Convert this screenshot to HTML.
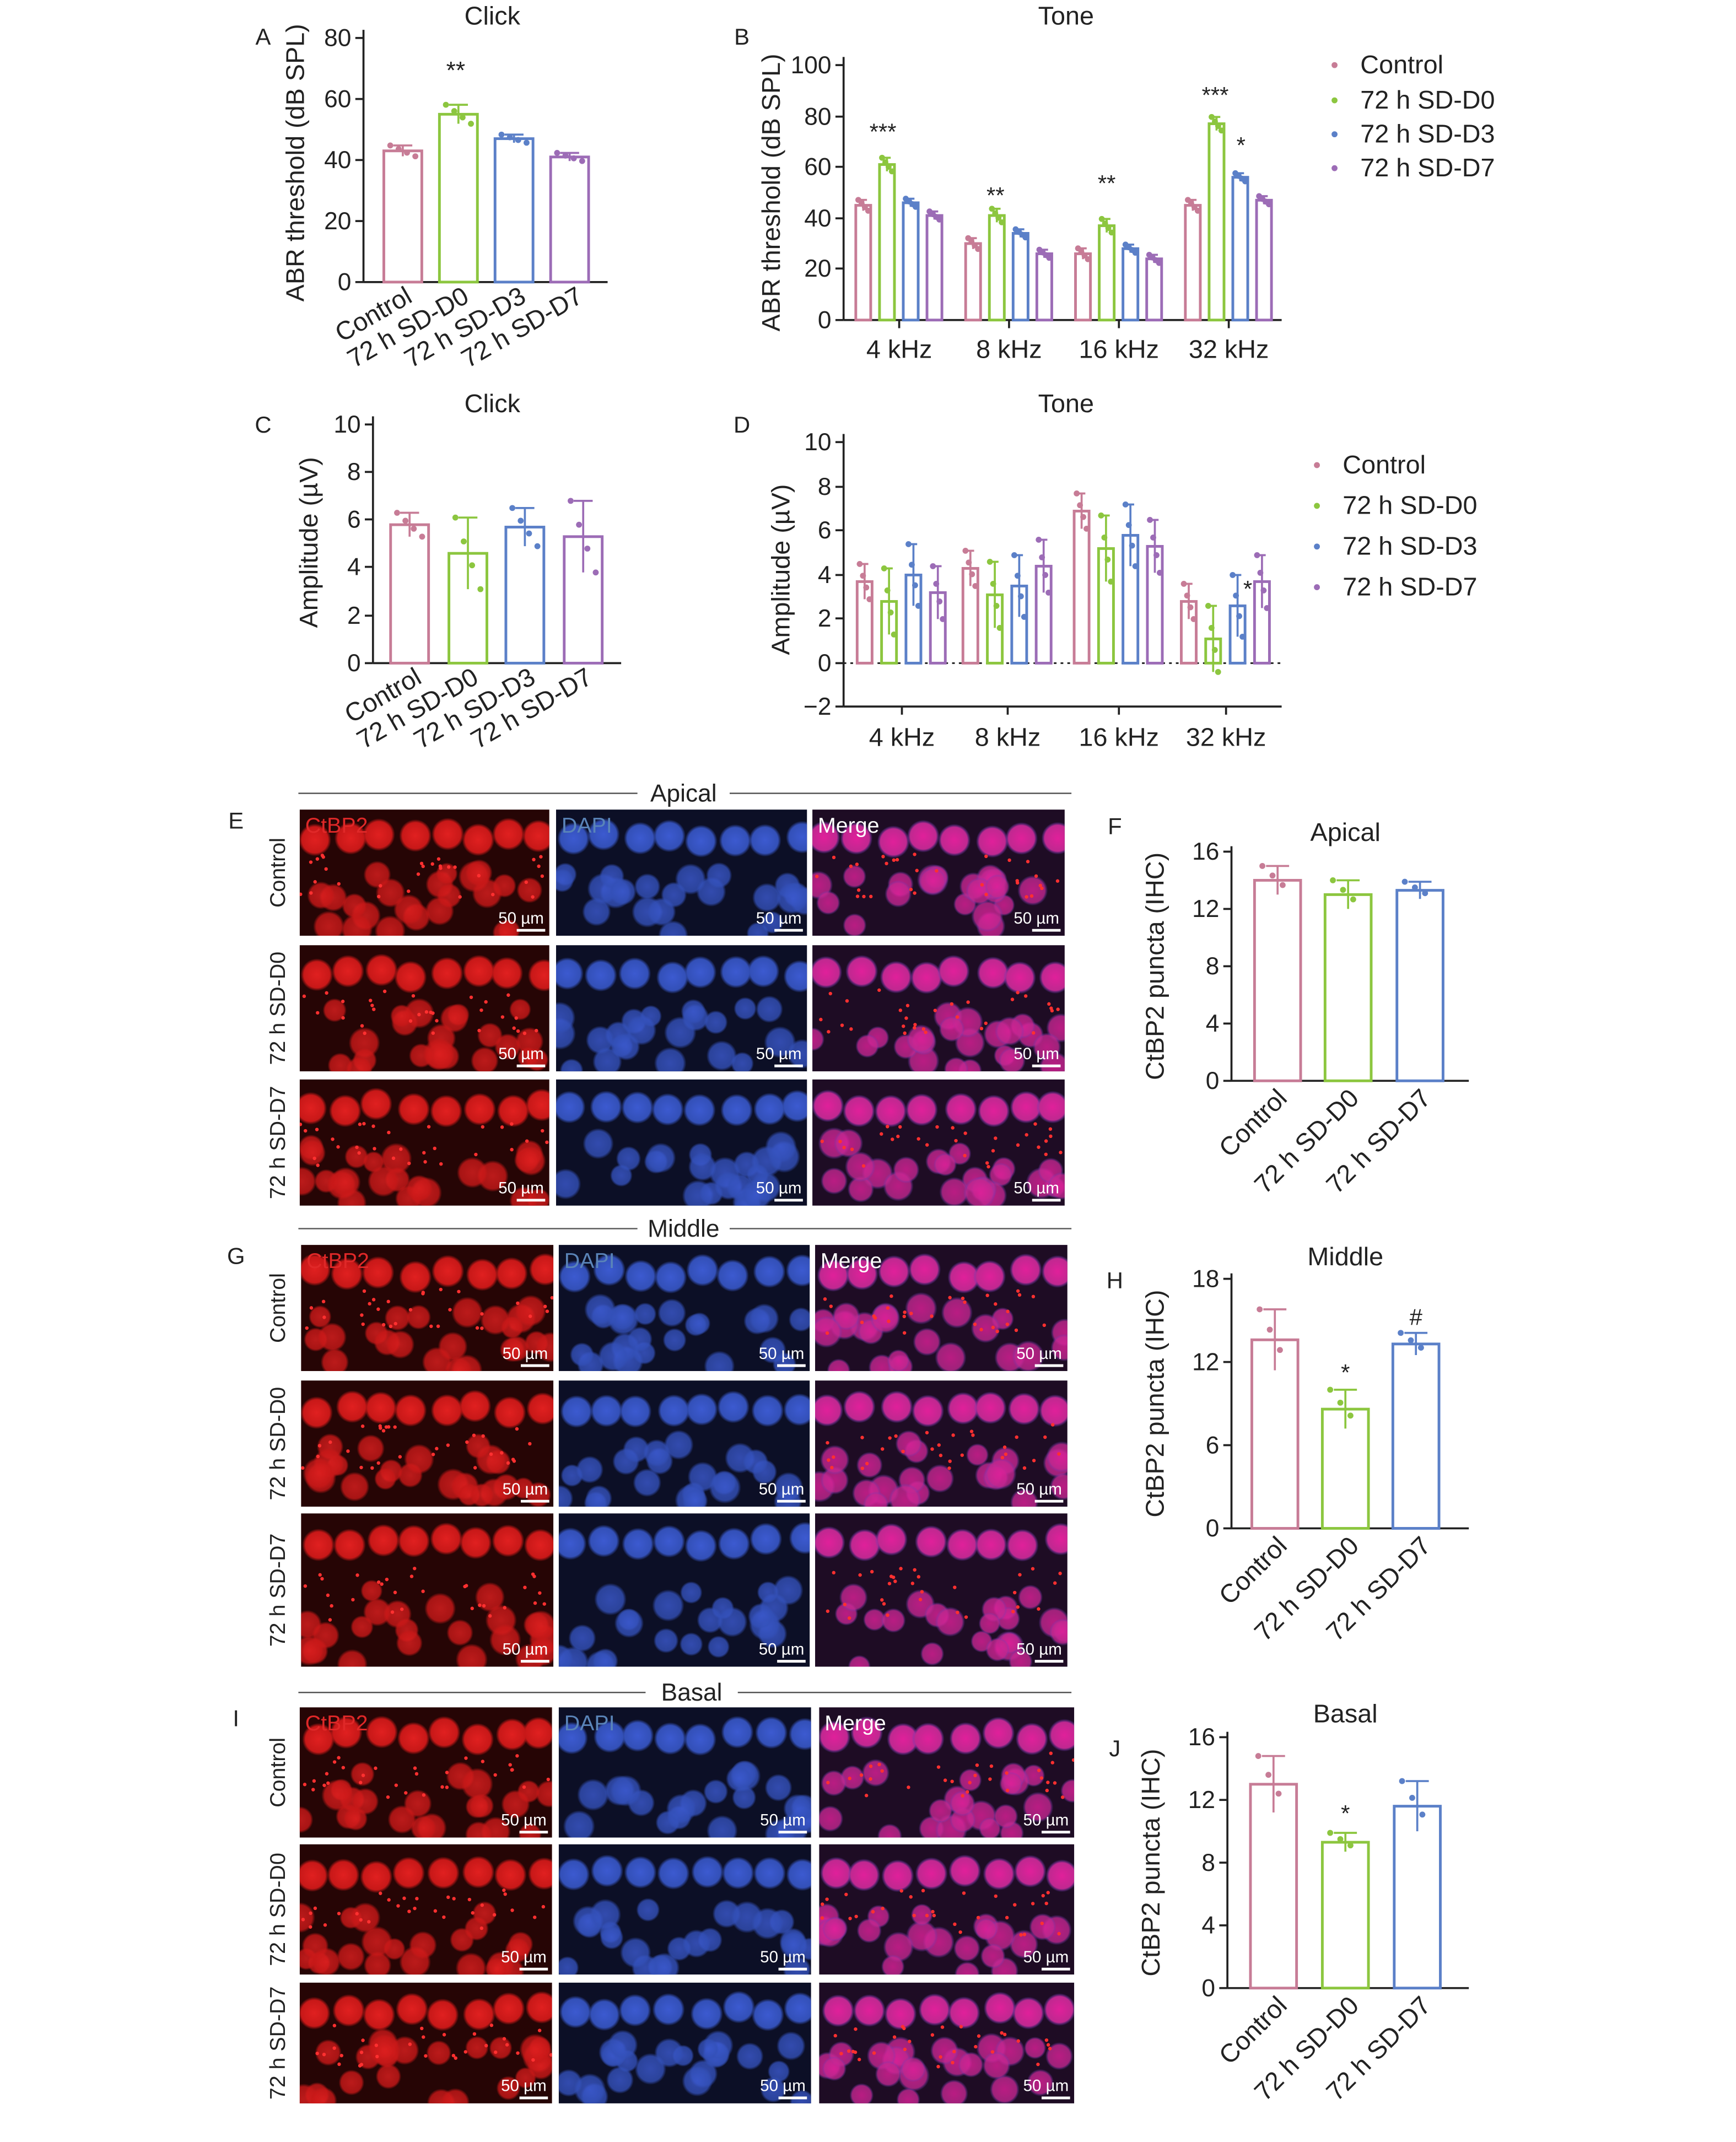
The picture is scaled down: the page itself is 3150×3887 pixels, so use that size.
<!DOCTYPE html>
<html><head><meta charset="utf-8"><style>
html,body{margin:0;padding:0;background:#fff}
svg{display:block}
text{font-family:"Liberation Sans",sans-serif;fill:#222}
</style></head><body>
<svg id="s" width="3150" height="3887" viewBox="0 0 1280 1579.5" xmlns="http://www.w3.org/2000/svg">
<defs>
<radialGradient id="gr"><stop offset="0" stop-color="#e02020"/><stop offset="0.8" stop-color="#c81818"/><stop offset="1" stop-color="#c81818" stop-opacity="0"/></radialGradient>
<radialGradient id="gb"><stop offset="0" stop-color="#3c5ad0"/><stop offset="0.8" stop-color="#3350b8"/><stop offset="1" stop-color="#3350b8" stop-opacity="0"/></radialGradient>
<radialGradient id="gm"><stop offset="0" stop-color="#e0209a"/><stop offset="0.8" stop-color="#c02890"/><stop offset="1" stop-color="#6040c0" stop-opacity="0"/></radialGradient>
</defs>
<g id="g"></g>
</svg>
<script>
const g=document.getElementById('g');let h='';
const C=['#c77c96','#8cc63f','#5b80c8','#9c6cb6'];
function T(x,y,t,o){o=o||{};h+=`<text x="${x}" y="${y}" font-size="${o.s||17}" text-anchor="${o.a||'middle'}" ${o.r!=null?`transform="rotate(${o.r} ${x} ${y})"`:''} style="fill:${o.c||'#222'}">${t}</text>`}
function L(x1,y1,x2,y2,c,w,d){h+=`<line x1="${x1}" y1="${y1}" x2="${x2}" y2="${y2}" stroke="${c||'#222'}" stroke-width="${w||1.5}" ${d?'stroke-dasharray="2,3"':''}/>`}
function axis(x,y0,y1,ticks,vals,x2,fs){L(x,y0,x,y1);L(x,y1,x2,y1);
 ticks.forEach((ty,i)=>{L(x-6,ty,x,ty);T(x-9,ty+6,vals[i],{a:'end',s:fs||18})})}
function bar(x,w,top,base,c,err,n){h+=`<rect x="${x}" y="${top}" width="${w}" height="${base-top}" fill="none" stroke="${c}" stroke-width="2"/>`;
 const cx=x+w/2;L(cx,top-err,cx,top+err,c,1.5);L(cx-w*0.25,top-err,cx+w*0.25,top-err,c,1.5);
 for(let i=0;i<(n||4);i++){const dx=(i-1.5)*w*0.22,dy=((i*37)%7-3)*err/3;h+=`<circle cx="${cx+dx}" cy="${top+dy}" r="2.2" fill="${c}"/>`}}
T(363,18,'Click',{s:19});T(194,33,'A',{s:17});
let yA=v=>208-v*2.25;axis(268,22,208,[28,73,118,163,208],['80','60','40','20','0'],448);
T(224,120,'ABR threshold (dB SPL)',{r:-90,s:19});
[[283,43,4],[324,55,7],[365,47,3],[406,41,3]].forEach((b,i)=>bar(b[0],28,yA(b[1]),208,C[i],b[2]));
T(336,58,'**',{s:18});
['Control','72 h SD-D0','72 h SD-D3','72 h SD-D7'].forEach((t,i)=>T(305+i*42,222,t,{a:'end',r:-30,s:19}));
T(786,18,'Tone',{s:19});T(547,33,'B',{s:17});
let yB=v=>236-v*1.88;axis(622,42,236,[48,86,123,161,198,236],['100','80','60','40','20','0'],945);
T(575,142,'ABR threshold (dB SPL)',{r:-90,s:19});
const BV=[[45,61,46,41],[30,41,34,26],[26,37,28,24],[45,77,56,47]],gc=[663,744,825,906];
BV.forEach((vs,gi)=>{L(gc[gi],236,gc[gi],242);vs.forEach((v,i)=>bar(gc[gi]-32+i*17.5,11,yB(v),236,C[i],[4,5,3,3][i]))});
['4 kHz','8 kHz','16 kHz','32 kHz'].forEach((t,i)=>T(gc[i],264,t,{s:19}));
T(651,103,'***');T(734,150,'**');T(816,141,'**');T(896,76,'***');T(915,113,'*');
function legend(x,ys){['Control','72 h SD-D0','72 h SD-D3','72 h SD-D7'].forEach((t,i)=>{h+=`<circle cx="${x}" cy="${ys[i]-6}" r="2.2" fill="${C[i]}"/>`;T(x+19,ys[i],t,{a:'start',s:19})})}
legend(984,[54,80,105,130]);
T(363,304,'Click',{s:19});T(194,319,'C',{s:17});
let yC=v=>489-v*17.6;axis(275,307,489,[313,348,383,418,454,489],['10','8','6','4','2','0'],458);
T(234,400,'Amplitude (µV)',{r:-90,s:19});
[[288,5.8,0.5],[331,4.6,1.5],[373,5.7,0.8],[416,5.3,1.5]].forEach((b,i)=>bar(b[0],28,yC(b[1]),489,C[i],b[2]*17.6));
['Control','72 h SD-D0','72 h SD-D3','72 h SD-D7'].forEach((t,i)=>T(312+i*42,503,t,{a:'end',r:-30,s:19}));
T(786,304,'Tone',{s:19});T(547,319,'D',{s:17});
let yD=v=>489-v*16.25;axis(622,320,521,[326,359,391,424,456,489,521],['10','8','6','4','2','0','−2'],945);
L(622,489,945,489,'#222',1.2,true);
T(582,420,'Amplitude (µV)',{r:-90,s:19});
const DV=[[3.7,2.8,4.0,3.2],[4.3,3.1,3.5,4.4],[6.9,5.2,5.8,5.3],[2.8,1.1,2.6,3.7]],dc=[665,743,825,904];
DV.forEach((vs,gi)=>{L(dc[gi],521,dc[gi],527);vs.forEach((v,i)=>bar(dc[gi]-33+i*18,11,yD(v),489,C[i],[0.8,1.5,1.4,1.2][i]*16.25))});
['4 kHz','8 kHz','16 kHz','32 kHz'].forEach((t,i)=>T(dc[i],550,t,{s:19}));
T(920,440,'*');legend(971,[349,379,409,439]);
function panel(x,y,w,hh,type,seed,lab){h+=`<rect x="${x}" y="${y}" width="${w}" height="${hh}" fill="${type==0?'#260505':type==1?'#0c0f26':'#1e0c24'}"/>`;
 h+=`<svg x="${x}" y="${y}" width="${w}" height="${hh}">`;
 let r=seed;const rnd=()=>{r=(r*9301+49297)%233280;return r/233280};
 const f=['url(#gr)','url(#gb)','url(#gm)'][type];
 for(let i=0;i<8;i++)h+=`<circle cx="${8+i*24+rnd()*6}" cy="${18+rnd()*6}" r="12" fill="${f}"/>`;
 for(let i=0;i<22;i++)h+=`<circle cx="${rnd()*w}" cy="${hh*0.5+rnd()*hh*0.5}" r="${8+rnd()*4}" fill="${f}" opacity="0.8"/>`;
 if(type!=1)for(let i=0;i<30;i++)h+=`<circle cx="${rnd()*w}" cy="${hh*0.35+rnd()*hh*0.35}" r="1.3" fill="#ff3030"/>`;
 h+=`</svg>`;
 if(lab)T(x+4,y+17,lab,{a:'start',s:16,c:type==0?'#e02828':type==1?'#5a84b8':'#fff'});
 T(x+w-4,y+hh-9,'50 µm',{a:'end',s:12,c:'#fff'});L(x+w-24,y+hh-4,x+w-3,y+hh-4,'#fff',2);}
function block(ly,title,rows,cols,tx,let_,names){L(220,ly,790,ly,'#555',1);h+=`<rect x="${tx-34}" y="${ly-10}" width="68" height="20" fill="#fff"/>`;T(tx,ly+6,title,{s:18});
 T(174,rows[0][0]+14,let_,{s:17});
 rows.forEach((rw,ri)=>{cols.forEach((c,ci)=>panel(c[0],rw[0],c[1]-c[0],rw[1]-rw[0],ci,ri*31+ci*7+ly,ri==0?['CtBP2','DAPI','Merge'][ci]:null));
  T(210,(rw[0]+rw[1])/2,names[ri],{r:-90,s:16})});}
const N=['Control','72 h SD-D0','72 h SD-D7'];
block(585,'Apical',[[597,690],[697,790],[796,889]],[[221,405],[410,595],[599,785]],504,'E',N);
block(906,'Middle',[[918,1011],[1018,1111],[1116,1229]],[[222,408],[412,597],[601,787]],504,'G',N);
block(1248,'Basal',[[1259,1355],[1360,1456],[1462,1551]],[[221,407],[412,598],[604,792]],510,'I',N);
function small(x,top,base,vals,maxv,ticks,title,ty,let_,bars,errs,stars){T(992,ty,title,{s:19});T(822,let_[1],let_[0],{s:17});
 const k=(base-top)/maxv;axis(x,top-4,base,ticks.map(t=>base-t*k),ticks.map(String),1083);
 T(x-50,(top+base)/2,'CtBP2 puncta (IHC)',{r:-90,s:19});
 bars.forEach((bx,i)=>bar(bx,34,base-vals[i]*k,base,C[[0,1,2][i]],errs[i]*k,3));
 stars.forEach(s=>T(s[0],s[1],s[2],{s:17}));
 ['Control','72 h SD-D0','72 h SD-D7'].forEach((t,i)=>T(950+i*53,base+14,t,{a:'end',r:-45,s:19}));}
small(908,628,797,[14,13,13.3],16,[0,4,8,12,16],'Apical',620,['F',615],[925,977,1030],[1,1,0.6],[]);
small(908,943,1127,[13.6,8.6,13.3],18,[0,6,12,18],'Middle',933,['H',950],[923,975,1027],[2.2,1.4,0.8],[[992,1018,'*'],[1044,977,'#']]);
small(905,1281,1466,[13,9.3,11.6],16,[0,4,8,12,16],'Basal',1270,['J',1295],[922,975,1028],[1.8,0.6,1.6],[[992,1343,'*']]);
g.innerHTML=h;
</script>
</body></html>
